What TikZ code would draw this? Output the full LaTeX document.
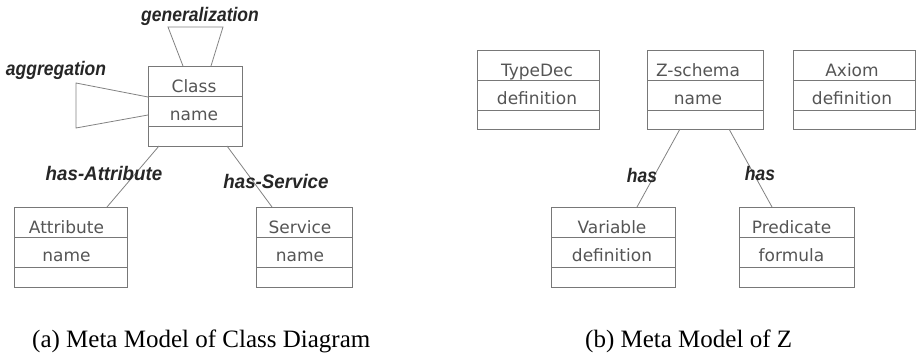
\documentclass[tikz,border=0pt]{standalone}
\usepackage{fontspec}
\usepackage{graphicx}
\setmainfont{Liberation Serif}
\newfontfamily\boxfont{DejaVu Sans}
\newfontfamily\rolefont{Liberation Sans}
\usetikzlibrary{calc}

\definecolor{boxgray}{RGB}{120,120,120}
\definecolor{txtgray}{RGB}{85,85,85}
\definecolor{linkgray}{RGB}{130,130,130}

\tikzset{
  umlbox/.style={draw=boxgray, line width=0.9pt, inner sep=0pt, outer sep=0pt, anchor=north west},
  divider/.style={draw=boxgray, line width=0.9pt},
  boxtxt/.style={font=\boxfont\fontsize{17}{17}\selectfont, text=txtgray, anchor=base, inner sep=0pt},
  role/.style={font=\rolefont\bfseries\itshape\fontsize{17.5}{17.5}\selectfont, text=black!85, anchor=base, inner sep=0pt},
  link/.style={draw=linkgray, line width=0.8pt},
  caption/.style={font=\fontsize{25}{25}\selectfont, anchor=base west, inner sep=0pt}
}

% role label text, a little taller than the plain font
\newcommand\roletext[2][1]{\scalebox{#1}[1.12]{#2}}

% class box: name, x, y (top left), width, height, title, attribute, text x-offset
\newcommand\umlclass[8]{%
  \node[umlbox, minimum width=#4pt, minimum height=#5pt] (#1) at (#2,#3) {};
  \draw[divider] ($(#1.north west)+(0,30)$) -- ($(#1.north east)+(0,30)$);
  \draw[divider] ($(#1.north west)+(0,60)$) -- ($(#1.north east)+(0,60)$);
  \node[boxtxt] (#1-title) at ($(#1.north)+(#8,27)$) {#6};
  \node[boxtxt] (#1-attr) at ($(#1.north)+(#8,55)$) {#7};
}

\begin{document}
\begin{tikzpicture}[x=1pt, y=-1pt]
  \useasboundingbox (0,0) rectangle (916,355);

  % ---- (a) class diagram meta model ----
  \umlclass{cls}{148}{66}{94}{80}{Class}{name}{-1}
  \umlclass{attr}{14}{207}{113}{80}{Attribute}{name}{-4}
  \umlclass{serv}{256}{207}{96}{80}{Service}{name}{-4}

  % generalization self-link on top
  \coordinate (g1) at ($(cls.north west)+(35,0)$);
  \coordinate (g2) at ($(cls.north west)+(63,0)$);
  \draw[link] (g1) -- ++(-15,-39) -- ++(55,0) -- (g2);
  \node[role] (gen) at (200,22) {\roletext{generalization}};

  % aggregation self-link on the left
  \coordinate (a1) at ($(cls.north west)+(0,31)$);
  \coordinate (a2) at ($(cls.north west)+(0,49)$);
  \draw[link] (a1) -- (76,83) -- (76,128) -- (a2);
  \node[role] (agg) at (56,76) {\roletext{aggregation}};

  % associations
  \coordinate (c1) at ($(cls.south west)+(11,0)$);
  \coordinate (c2) at ($(cls.south west)+(79,0)$);
  \coordinate (at1) at ($(attr.north west)+(93,0)$);
  \coordinate (sv1) at ($(serv.north west)+(16,0)$);
  \draw[link] (c1) -- (at1);
  \draw[link] (c2) -- (sv1);
  \node[role] (hasattr) at (104,181) {\roletext[1.07]{has-Attribute}};
  \node[role] (hasserv) at (276,189) {\roletext[1.07]{has-Service}};

  % ---- (b) Z meta model ----
  \umlclass{tdec}{477}{50}{122}{79}{TypeDec}{definition}{-1}
  \umlclass{zsch}{647}{50}{116}{79}{Z-schema}{name}{-7}
  \umlclass{axiom}{793}{50}{122}{79}{Axiom}{definition}{-2}
  \umlclass{var}{551}{207}{124}{80}{Variable}{definition}{-1}
  \umlclass{pred}{739}{207}{115}{80}{Predicate}{formula}{-5}

  \coordinate (z1) at ($(zsch.south west)+(33,0)$);
  \coordinate (z2) at ($(zsch.south west)+(82,0)$);
  \coordinate (v1) at ($(var.north west)+(86,0)$);
  \coordinate (p1) at ($(pred.north west)+(33,0)$);
  \draw[link] (z1) -- (v1);
  \draw[link] (z2) -- (p1);
  \node[role] (has1) at (642,183) {\roletext{has}};
  \node[role] (has2) at (760,181) {\roletext{has}};

  % captions
  \node[caption] (capa) at (32,348) {(a) Meta Model of Class Diagram};
  \node[caption] (capb) at (585,348) {(b) Meta Model of Z};
\end{tikzpicture}
\end{document}
